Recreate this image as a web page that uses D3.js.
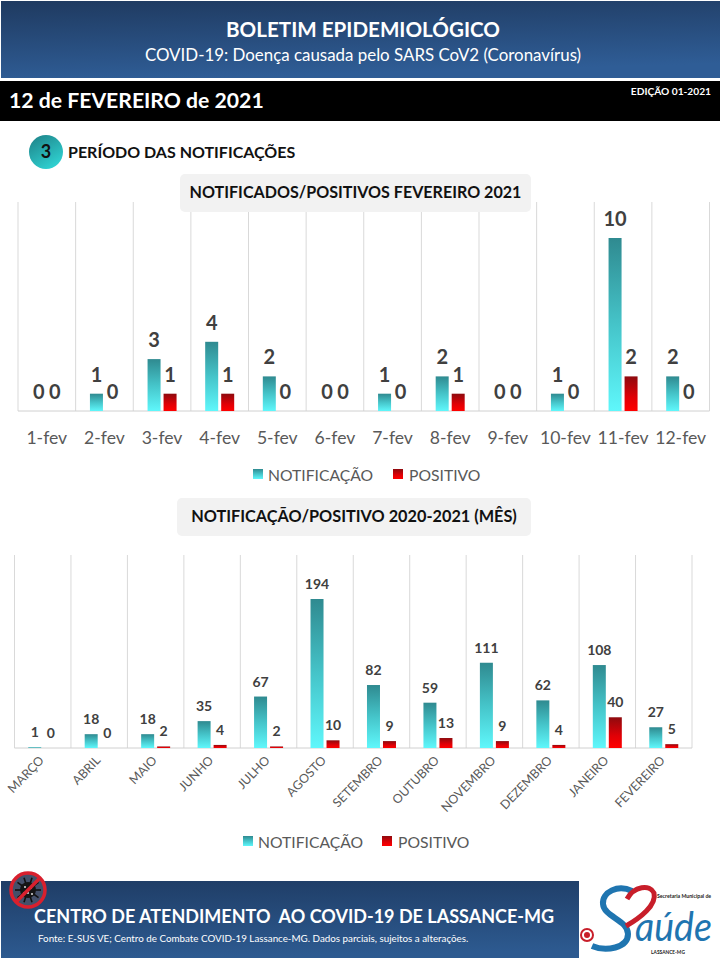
<!DOCTYPE html>
<html><head><meta charset="utf-8">
<script src="https://cdnjs.cloudflare.com/ajax/libs/d3/7.8.5/d3.min.js"></script>
<style>html,body{margin:0;padding:0;background:#fff}svg{display:block}text{font-family:Lato,"Open Sans",sans-serif}</style>
</head><body><svg id="c" width="720" height="960"></svg>
<script>
const days=["1-fev","2-fev","3-fev","4-fev","5-fev","6-fev","7-fev","8-fev","9-fev","10-fev","11-fev","12-fev"];
const dayNotif=[0,1,3,4,2,0,1,2,0,1,10,2];
const dayPos=[0,0,1,1,0,0,0,1,0,0,2,0];
const months=["MARÇO","ABRIL","MAIO","JUNHO","JULHO","AGOSTO","SETEMBRO","OUTUBRO","NOVEMBRO","DEZEMBRO","JANEIRO","FEVEREIRO"];
const monthNotif=[1,18,18,35,67,194,82,59,111,62,108,27];
const monthPos=[0,0,2,4,2,10,9,13,9,4,40,5];
const seriesNames=["NOTIFICAÇÃO","POSITIVO"];

const svg=d3.select("#c");
const defs=svg.append("defs");
function grad(id,stops,x2,y2){
  const g=defs.append("linearGradient").attr("id",id).attr("x1",0).attr("y1",0).attr("x2",x2).attr("y2",y2);
  stops.forEach(([o,c])=>g.append("stop").attr("offset",o).attr("stop-color",c));
}
grad("gN",[[0,"#2f8a90"],[0.5,"#45c4c9"],[1,"#5ff7fb"]],0,1);
grad("gP",[[0,"#8e0a0e"],[0.6,"#e00006"],[1,"#ff0000"]],0,1);
grad("gH",[[0,"#1f3a60"],[1,"#2f5d96"]],0.25,1);
grad("gB",[[0,"#1f3d66"],[1,"#2d5a90"]],0.1,1);
grad("gC",[[0,"#1d7f85"],[1,"#2fd0d0"]],0.6,1);

const txt=(x,y,s,size,fill,anchor="start",weight=400,parent=svg)=>
  parent.append("text").attr("x",x).attr("y",y).attr("font-size",size).attr("fill",fill)
    .attr("text-anchor",anchor).attr("font-weight",weight).text(s);

// header
svg.append("rect").attr("x",1).attr("y",1).attr("width",721).attr("height",77).attr("fill","url(#gH)");
txt(363,37,"BOLETIM EPIDEMIOLÓGICO",20.6,"#fff","middle",700);
txt(363,61,"COVID-19: Doença causada pelo SARS CoV2 (Coronavírus)",16.9,"#fff","middle");
svg.append("rect").attr("x",0).attr("y",81).attr("width",720).attr("height",40).attr("fill","#000");
txt(9,108,"12 de FEVEREIRO de 2021",21.2,"#fff","start",700);
txt(711,95,"EDIÇÃO 01-2021",10.2,"#fff","end",700);

// section heading
svg.append("ellipse").attr("cx",46).attr("cy",152).attr("rx",17).attr("ry",17).attr("fill","url(#gC)");
txt(46,158,"3",18,"#111","middle",700);
txt(68,158,"PERÍODO DAS NOTIFICAÇÕES",16,"#111","start",700);

function chart(o){
  const g=svg.append("g");
  const x=d3.scaleBand().domain(o.cats).range([o.x0,o.x1]);
  const y=d3.scaleLinear().domain([0,o.max]).range([o.base,o.base-o.h]);
  g.selectAll("line.sep").data(d3.range(13)).join("line")
    .attr("x1",i=>o.x0+i*x.bandwidth()).attr("x2",i=>o.x0+i*x.bandwidth())
    .attr("y1",o.top).attr("y2",o.base).attr("stroke","#d9d9d9");
  g.append("line").attr("x1",o.x0).attr("x2",o.x1).attr("y1",o.base).attr("y2",o.base).attr("stroke","#d0d0d0");
  const bw=13,gap=3;
  [[o.a,"url(#gN)",-bw-gap/2],[o.b,"url(#gP)",gap/2]].forEach(([vals,fill,dx])=>{
    g.selectAll(null).data(vals).join("rect")
      .attr("x",(d,i)=>x(o.cats[i])+x.bandwidth()/2+dx).attr("width",bw)
      .attr("y",d=>y(d)).attr("height",d=>o.base-y(d)).attr("fill",fill);
    g.selectAll(null).data(vals).join("text")
      .attr("x",(d,i)=>x(o.cats[i])+x.bandwidth()/2+dx+bw/2)
      .attr("y",d=>y(d)-o.lblGap).attr("text-anchor","middle")
      .attr("font-size",o.lblSize).attr("font-weight",700).attr("fill","#404040").text(d=>d);
  });
  g.append("rect").attr("x",o.tx).attr("y",o.ty).attr("width",o.tw).attr("height",38).attr("rx",5).attr("fill","#f2f2f2");
  txt(o.tx+o.tw/2,o.ty+24,o.title,o.tsize,"#111","middle",700,g);
  g.append("rect").attr("x",o.lx).attr("y",o.ly-10).attr("width",10).attr("height",10).attr("fill","url(#gN)");
  txt(o.lx+15,o.ly+2,seriesNames[0],15.7,"#595959","start",400,g);
  g.append("rect").attr("x",o.lx2).attr("y",o.ly-10).attr("width",10).attr("height",10).attr("fill","url(#gP)");
  txt(o.lx2+16,o.ly+2,seriesNames[1],15.7,"#595959","start",400,g);
  return {g,x};
}

const c1=chart({cats:days,a:dayNotif,b:dayPos,x0:18,x1:709.5,base:411,h:173,max:10,top:202,
  lblGap:12,lblSize:20,tx:180,ty:174,tw:351,tsize:16.1,title:"NOTIFICADOS/POSITIVOS FEVEREIRO 2021",lx:253,ly:479,lx2:393});
c1.g.selectAll(null).data(days).join("text")
  .attr("x",d=>c1.x(d)+c1.x.bandwidth()/2).attr("y",444).attr("text-anchor","middle")
  .attr("font-size",17.6).attr("fill","#595959").text(d=>d);

const c2=chart({cats:months,a:monthNotif,b:monthPos,x0:14.5,x1:692,base:748,h:149,max:194,top:555,
  lblGap:10,lblSize:14,tx:177,ty:498,tw:354,tsize:16.3,title:"NOTIFICAÇÃO/POSITIVO 2020-2021 (MÊS)",lx:243,ly:846,lx2:382});
c2.g.selectAll(null).data(months).join("text")
  .attr("text-anchor","end").attr("font-size",12.4).attr("fill","#595959")
  .attr("transform",d=>`translate(${c2.x(d)+c2.x.bandwidth()/2+2},761) rotate(-46)`).text(d=>d);

// footer
svg.append("rect").attr("x",1).attr("y",881).attr("width",578).attr("height",77).attr("fill","url(#gB)");
txt(34,923,"CENTRO DE ATENDIMENTO  AO COVID-19 DE LASSANCE-MG",18,"#fff","start",700).attr("xml:space","preserve");
txt(38,942,"Fonte: E-SUS VE; Centro de Combate COVID-19 Lassance-MG. Dados parciais, sujeitos a alterações.",9.8,"#fff");
// no-virus icon
const ic=svg.append("g").attr("transform","translate(28,890)");
ic.append("circle").attr("r",17).attr("fill","#44506a");
d3.range(10).forEach(i=>{const a=i*Math.PI/5;
  ic.append("line").attr("x1",0).attr("y1",0).attr("x2",13*Math.cos(a)).attr("y2",13*Math.sin(a)).attr("stroke","#111").attr("stroke-width",1.6);});
ic.append("circle").attr("r",8).attr("fill","#151515");
[[-3,-3],[3,-2],[0,3],[-4,3],[4,4]].forEach(([a,b])=>ic.append("circle").attr("cx",a).attr("cy",b).attr("r",1).attr("fill","#ddd"));
ic.append("circle").attr("r",17).attr("fill","none").attr("stroke","#d9202e").attr("stroke-width",3.5);
ic.append("line").attr("x1",-12).attr("y1",12).attr("x2",12).attr("y2",-12).attr("stroke","#d9202e").attr("stroke-width",3.5);
// logo
const lg=svg.append("g");
lg.append("path").attr("d","M632 891C618 884 602 892 603 904C604 917 628 920 628 934C628 948 606 952 592 946")
  .attr("fill","none").attr("stroke","#1f75b0").attr("stroke-width",6);
lg.append("path").attr("d","M627 899C634 886 650 884 654 893C657 905 640 918 626 926")
  .attr("fill","none").attr("stroke","#c81e2a").attr("stroke-width",5);
txt(635,941,"aúde",40,"#1f75b0","start",400,lg).attr("font-style","italic").attr("textLength",77).attr("lengthAdjust","spacingAndGlyphs");
txt(657,898,"Secretaria Municipal de",5.2,"#222","start",700,lg);
txt(668,954,"LASSANCE-MG",4.8,"#222","middle",700,lg);
lg.append("circle").attr("cx",587).attr("cy",935).attr("r",6).attr("fill","#fff").attr("stroke","#c81e2a").attr("stroke-width",2);
lg.append("circle").attr("cx",587).attr("cy",935).attr("r",3).attr("fill","#c81e2a");
</script></body></html>
